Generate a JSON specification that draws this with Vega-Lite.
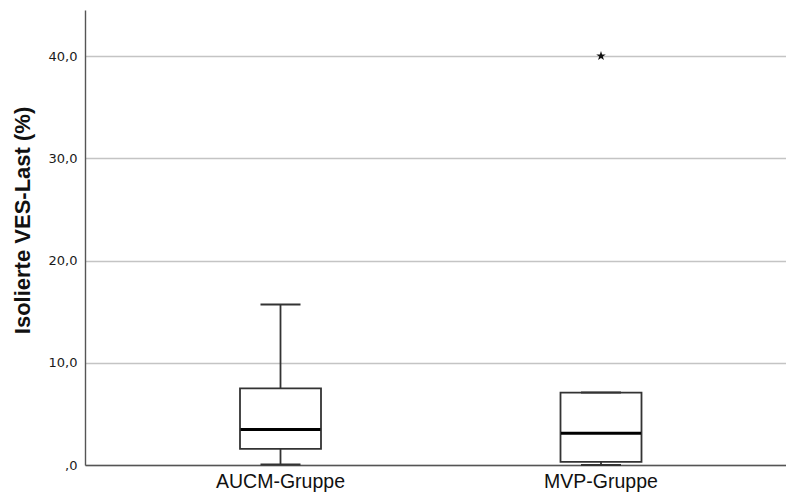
{
  "$schema": "https://vega.github.io/schema/vega-lite/v6.json",
  "width": 701,
  "height": 455,
  "autosize": "none",
  "padding": {"left": 85, "top": 10, "right": 0, "bottom": 30},
  "background": "white",
  "config": {"view": {"stroke": null}},
  "datasets": {
    "boxes": [
      {"group": "AUCM-Gruppe", "lower": 0.05, "q1": 1.58, "median": 3.47, "q3": 7.5, "upper": 15.7},
      {"group": "MVP-Gruppe", "lower": 0.0, "q1": 0.31, "median": 3.1, "q3": 7.08, "upper": 7.08}
    ],
    "outliers": [
      {"group": "MVP-Gruppe", "value": 40.0}
    ]
  },
  "encoding": {
    "x": {
      "field": "group",
      "type": "nominal",
      "sort": null,
      "scale": {"domain": ["AUCM-Gruppe", "MVP-Gruppe"], "paddingInner": 0, "paddingOuter": 0.0936, "align": 0.5875},
      "axis": {
        "title": null,
        "ticks": false,
        "domainColor": "#555555",
        "domainWidth": 1.4,
        "labelFont": "Liberation Sans",
        "labelFontSize": 19.5,
        "labelColor": "#111111",
        "labelPadding": 7,
        "labelAngle": 0
      }
    }
  },
  "layer": [
    {
      "data": {"name": "boxes"},
      "mark": {"type": "rule", "stroke": "#333333", "strokeWidth": 1.8},
      "encoding": {
        "y": {
          "field": "lower",
          "type": "quantitative",
          "scale": {"domain": [0, 44.5], "nice": false, "zero": false},
          "axis": {
            "values": [0, 10, 20, 30, 40],
            "grid": true,
            "gridColor": "#c4c4c4",
            "gridWidth": 1.3,
            "ticks": false,
            "domainColor": "#555555",
            "domainWidth": 1.4,
            "labelFont": "DejaVu Sans",
            "labelFontSize": 13,
            "labelFontWeight": "normal",
            "labelColor": "#1a1a1a",
            "labelPadding": 8,
            "labelExpr": "datum.value == 0 ? ',0' : replace(format(datum.value, '.1f'), '.', ',')",
            "title": "Isolierte VES-Last (%)",
            "titleFont": "Liberation Sans",
            "titleFontSize": 22,
            "titleFontWeight": "bold",
            "titleColor": "#111111",
            "titleX": -63,
            "titleY": 210,
            "titleBaseline": "middle",
            "titleAlign": "center",
            "titleAngle": -90
          }
        },
        "y2": {"field": "upper"}
      }
    },
    {
      "data": {"name": "boxes"},
      "mark": {"type": "bar", "size": 81, "fill": "white", "stroke": "#333333", "strokeWidth": 1.8},
      "encoding": {
        "y": {"field": "q1", "type": "quantitative"},
        "y2": {"field": "q3"}
      }
    },
    {
      "data": {"name": "boxes"},
      "mark": {"type": "tick", "size": 80, "thickness": 3, "color": "#000000", "opacity": 1},
      "encoding": {
        "y": {"field": "median", "type": "quantitative"}
      }
    },
    {
      "data": {"name": "boxes"},
      "mark": {"type": "tick", "size": 40, "thickness": 2, "color": "#333333", "opacity": 1},
      "encoding": {
        "y": {"field": "upper", "type": "quantitative"}
      }
    },
    {
      "data": {"name": "boxes"},
      "mark": {"type": "tick", "size": 40, "thickness": 2, "color": "#333333", "opacity": 1},
      "encoding": {
        "y": {"field": "lower", "type": "quantitative"}
      }
    },
    {
      "data": {"name": "outliers"},
      "mark": {
        "type": "point",
        "shape": "M0,-1L0.2245,-0.309L0.951,-0.309L0.363,0.118L0.588,0.809L0,0.382L-0.588,0.809L-0.363,0.118L-0.951,-0.309L-0.2245,-0.309Z",
        "filled": true,
        "color": "#111111",
        "size": 100,
        "opacity": 1
      },
      "encoding": {
        "y": {"field": "value", "type": "quantitative"}
      }
    }
  ]
}
